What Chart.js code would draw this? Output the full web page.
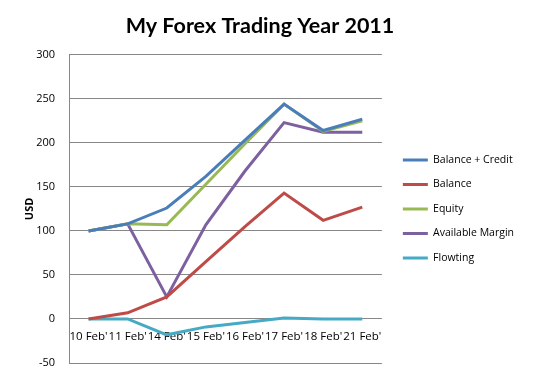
<!DOCTYPE html>
<html>
<head>
<meta charset="utf-8">
<script src="https://cdn.jsdelivr.net/npm/chart.js@4.4.0/dist/chart.umd.min.js"></script>
<style>
  html, body { margin: 0; padding: 0; background: #ffffff; }
  #wrap { width: 535px; height: 377px; }
</style>
</head>
<body>
<div id="wrap"><canvas id="forexChart"></canvas></div>
<script>
// Categories and series
const dates = ["10 Feb'", "11 Feb'", "14 Feb'", "15 Feb'", "16 Feb'", "17 Feb'", "18 Feb'", "21 Feb'"];
const balanceCredit = [100, 108, 126, 162, 203, 244, 214, 227];
const balance = [0, 7, 25, 65, 105, 143, 112, 127];
const equity = [100, 108, 107, 153, 199, 244, 213, 225];
const availableMargin = [100, 108, 25, 107, 168, 223, 212, 212];
const flowting = [0, 0, -18, -9, -4, 1, 0, 0];
const yTicks = { min: -50, max: 300, step: 50 };

const gridGray = '#878787';
const titleFont = 'Lato, "Open Sans", sans-serif';
const textFont = '"Open Sans", Lato, sans-serif';

function series(label, data, color) {
    return {
        label: label,
        data: data,
        borderColor: color,
        backgroundColor: color,
        borderWidth: 3,
        pointRadius: 0,
        tension: 0,
        fill: false
    };
}

// nudge the title left, the original centres it off the canvas middle
const titleNudge = {
    id: 'titleNudge',
    afterLayout(chart) {
        if (chart.titleBlock) chart.titleBlock.right -= 25;
    }
};

document.addEventListener('DOMContentLoaded', function() {
    const ctx = document.getElementById('forexChart');
    new Chart(ctx.getContext('2d'), {
        type: 'line',
        data: {
            labels: dates,
            datasets: [
                series('Balance + Credit', balanceCredit, '#4a7ebb'),
                series('Balance', balance, '#be4b48'),
                series('Equity', equity, '#98b954'),
                series('Available Margin', availableMargin, '#7d60a0'),
                series('Flowting', flowting, '#46aac5')
            ]
        },
        plugins: [titleNudge],
        options: {
            responsive: true,
            maintainAspectRatio: false,
            animation: false,
            layout: { padding: { top: 13, right: 11, bottom: 14, left: 21 } },
            plugins: {
                title: {
                    display: true,
                    text: 'My Forex Trading Year 2011',
                    color: '#000000',
                    font: { family: titleFont, size: 21.5, weight: 'bold' },
                    padding: { top: 0, bottom: 16 }
                },
                legend: {
                    position: 'right',
                    fullSize: false,
                    maxWidth: 142,
                    labels: {
                        color: '#000000',
                        font: { family: textFont, size: 10.5 },
                        boxWidth: 25,
                        boxHeight: 0,
                        padding: 14
                    }
                },
                tooltip: { enabled: false }
            },
            scales: {
                x: {
                    position: { y: 0 },
                    offset: true,
                    grid: { display: false, drawTicks: false, tickLength: 0 },
                    border: { display: false },
                    ticks: {
                        color: '#000000',
                        font: { family: textFont, size: 11.5 },
                        maxRotation: 0,
                        autoSkip: false,
                        padding: 11
                    },
                    // the axis sits inside the plot, so it should take no room
                    afterFit(scale) {
                        scale.height = 0;
                        scale.paddingLeft = 0;
                        scale.paddingRight = 0;
                    }
                },
                y: {
                    min: yTicks.min,
                    max: yTicks.max,
                    grid: { color: gridGray, drawTicks: false, tickLength: 0 },
                    border: { display: true, color: gridGray },
                    title: {
                        display: true,
                        text: 'USD',
                        color: '#000000',
                        font: { family: textFont, size: 11, weight: 'bold' },
                        padding: 2
                    },
                    ticks: {
                        stepSize: yTicks.step,
                        color: '#000000',
                        font: { family: textFont, size: 11 },
                        padding: 14
                    },
                    afterFit(scale) {
                        scale.width = 48;
                        scale.paddingTop = 0;
                        scale.paddingBottom = 0;
                    }
                },
                // empty axis, only keeps a gap between plot and legend
                gap: {
                    type: 'linear',
                    position: 'right',
                    display: true,
                    grid: { display: false, drawTicks: false, tickLength: 0 },
                    border: { display: false },
                    ticks: { display: false },
                    afterFit(scale) { scale.width = 7; }
                }
            }
        }
    });
});
</script>
</body>
</html>
